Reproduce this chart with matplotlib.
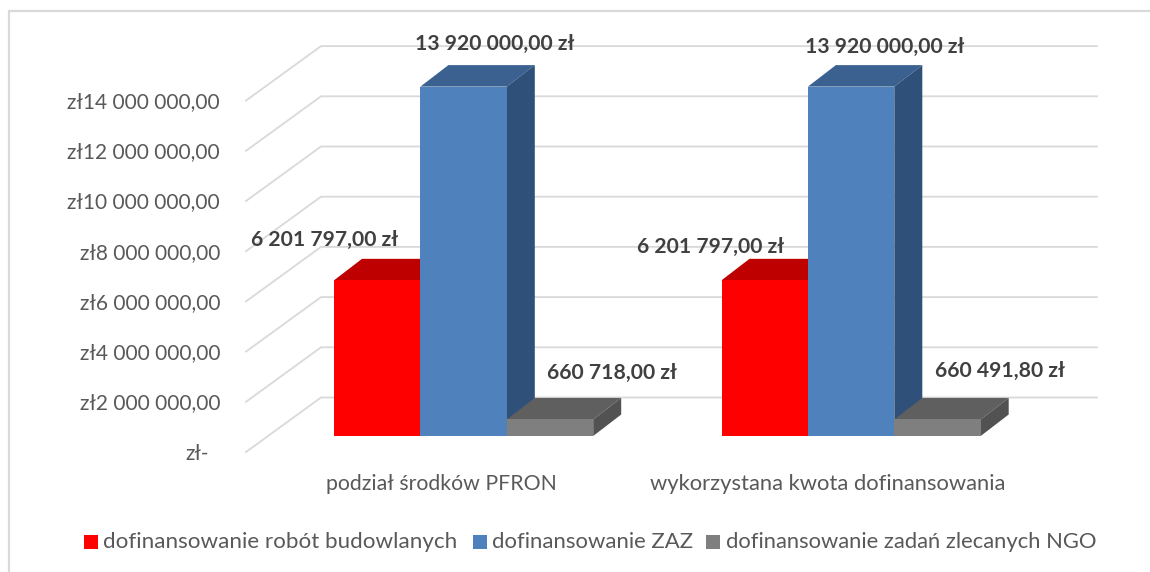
import matplotlib
matplotlib.use("Agg")
import matplotlib.pyplot as plt
from matplotlib.patches import Polygon, Rectangle

plt.rcParams['font.family'] = ['Lato', 'DejaVu Sans']

categories = ["podział środków PFRON", "wykorzystana kwota dofinansowania"]
series_names = ["dofinansowanie robót budowlanych", "dofinansowanie ZAZ", "dofinansowanie zadań zlecanych NGO"]
robot_values = [6201797.00, 6201797.00]
zaz_values = [13920000.00, 13920000.00]
ngo_values = [660718.00, 660491.80]
robot_labels = ["6 201 797,00 zł", "6 201 797,00 zł"]
zaz_labels = ["13 920 000,00 zł", "13 920 000,00 zł"]
ngo_labels = ["660 718,00 zł", "660 491,80 zł"]
tick_values = [0, 2e6, 4e6, 6e6, 8e6, 10e6, 12e6, 14e6]
tick_labels = ["zł-", "zł2 000 000,00", "zł4 000 000,00", "zł6 000 000,00", "zł8 000 000,00",
               "zł10 000 000,00", "zł12 000 000,00", "zł14 000 000,00"]

W, H = 1150, 572
fig = plt.figure(figsize=(W / 100, H / 100), dpi=100)
ax = fig.add_axes([0, 0, 1, 1])
ax.set_xlim(0, W)
ax.set_ylim(H, 0)
ax.axis("off")

# pixel-per-value scale of the pseudo-3D projection
PX = 25.1 / 1e6
def yf(v, base):
    return base - v * PX

GRID = "#d9d9d9"
# frame
ax.plot([8.5, 8.5, 1150], [572, 10.5, 10.5], color=GRID, lw=1.6, zorder=0)

# walls / gridlines
for v, lab in zip(tick_values, tick_labels):
    yfront, yback = yf(v, 452), yf(v, 397.5)
    ax.plot([246, 321, 1097], [yfront, yback, yback], color=GRID, lw=1.3, zorder=1)
    ax.text(220 if v else 209, yfront + 1.5, lab, ha="right", va="center", fontsize=15, color="#595959", zorder=5)

# bars
BASE, DX, DY, BW = 436, 28, 21.5, 86.4
starts = [334, 721.5]
colors = [("#ff0000", "#bf0000", "#bf0000"),
          ("#4f81bd", "#3b6190", "#2f5079"),
          ("#7f7f7f", "#5f5f5f", "#525252")]
series = [robot_values, zaz_values, ngo_values]

def bar3d(x, v, cols, z):
    top = yf(v, BASE)
    ax.add_patch(Polygon([(x, top), (x + DX, top - DY), (x + BW + DX, top - DY), (x + BW, top)],
                         fc=cols[1], ec="none", zorder=z))
    ax.add_patch(Polygon([(x + BW, top), (x + BW + DX, top - DY), (x + BW + DX, BASE - DY), (x + BW, BASE)],
                         fc=cols[2], ec="none", zorder=z))
    ax.add_patch(Rectangle((x, top), BW, BASE - top, fc=cols[0], ec="none", zorder=z))

for g, s in enumerate(starts):
    for i, (vals, cols) in enumerate(zip(series, colors)):
        bar3d(s + i * BW, vals[g], cols, 2 + i)

# data labels
BOLD = "#404040"
lab_kw = dict(fontsize=15.2, fontweight="bold", color=BOLD, ha="center", va="center", zorder=6)
for x, y, t in zip([324.5, 711], [240, 247], robot_labels):
    ax.text(x, y, t, **lab_kw)
for x, y, t in zip([495, 885], [44, 47], zaz_labels):
    ax.text(x, y, t, **lab_kw)
for x, y, t in zip([611.5, 1000], [373, 370.5], ngo_labels):
    ax.text(x, y, t, **lab_kw)

# category labels
for x, t, fs in zip([441.5, 828], categories, [15.3, 15.85]):
    ax.text(x, 484, t, ha="center", va="center", fontsize=fs, color="#595959", zorder=5)

# legend
for xs, xt, t, c, fs in zip([84, 473, 706], [103, 492, 726], series_names, [c[0] for c in colors],
                            [16.15, 15.9, 15.85]):
    ax.add_patch(Rectangle((xs, 535), 14, 14, fc=c, ec="none"))
    ax.text(xt, 541.5, t, ha="left", va="center", fontsize=fs, color="#595959")

fig.savefig("out.png", dpi=100)
